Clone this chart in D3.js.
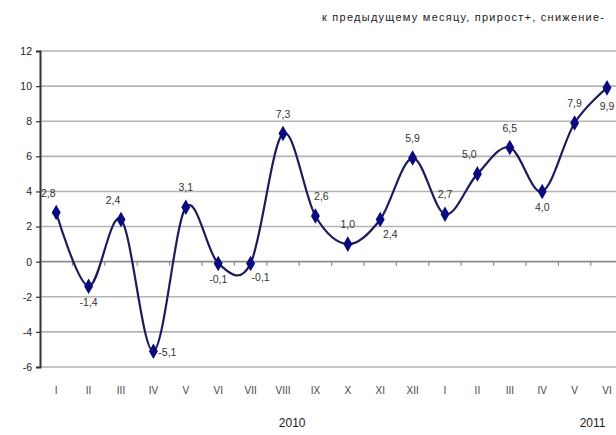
<!DOCTYPE html>
<html><head><meta charset="utf-8">
<script src="https://cdn.jsdelivr.net/npm/d3@7"></script>
<style>body{margin:0;background:#fff;} svg{display:block;}</style>
</head><body>
<svg id="c" width="616" height="435"></svg>
<script>
const months = ["I","II","III","IV","V","VI","VII","VIII","IX","X","XI","XII","I","II","III","IV","V","VI"];
const values = [2.8,-1.4,2.4,-5.1,3.1,-0.1,-0.1,7.3,2.6,1.0,2.4,5.9,2.7,5.0,6.5,4.0,7.9,9.9];
const valueLabels = ["2,8","-1,4","2,4","-5,1","3,1","-0,1","-0,1","7,3","2,6","1,0","2,4","5,9","2,7","5,0","6,5","4,0","7,9","9,9"];
const labelSide = ["aboveL","below","aboveL","right","above","below","belowR","above","aboveR","above","belowR","above","above","aboveL","above","below","above","belowR2"];
const yTicks = [12,10,8,6,4,2,0,-2,-4,-6];
const years = ["2010","2011"];
const subtitle = "к предыдущему месяцу, прирост+, снижение-";

const svg = d3.select("#c");
const plotLeft = 40, plotTop = 51, plotBottom = 367, step = 32.4;
const idx = months.map((m,i)=>i);
const x = d3.scaleBand().domain(idx).range([plotLeft, plotLeft + step*months.length]).paddingInner(0).paddingOuter(0);
const cx = i => x(i) + x.bandwidth()/2;
const y = d3.scaleLinear().domain([-6,12]).range([plotBottom, plotTop]);

// gridlines
svg.append("g").selectAll("line").data(yTicks.filter(t=>t!==0)).join("line")
  .attr("x1", plotLeft).attr("x2", 616).attr("y1", d=>y(d)).attr("y2", d=>y(d))
  .attr("stroke", "#b4b4b4").attr("stroke-width", 1.6);
// zero axis line
svg.append("line").attr("x1", plotLeft).attr("x2", 616).attr("y1", y(0)).attr("y2", y(0))
  .attr("stroke", "#8a8a8a").attr("stroke-width", 1.6);
// category ticks on zero line
svg.append("g").selectAll("line").data(d3.range(1, months.length+1)).join("line")
  .attr("x1", i=>x(i-1)+x.bandwidth()).attr("x2", i=>x(i-1)+x.bandwidth())
  .attr("y1", y(0)).attr("y2", y(0)+4).attr("stroke", "#8a8a8a").attr("stroke-width", 1.2);

// y axis
const yAxis = d3.axisLeft(y).tickValues(yTicks).tickSize(4).tickFormat(d=>d);
const ga = svg.append("g").attr("transform", `translate(${plotLeft},0)`).call(yAxis);
ga.select(".domain").attr("stroke", "#333").attr("stroke-width", 2);
ga.selectAll(".tick line").attr("stroke", "#333").attr("stroke-width", 1.2);
ga.selectAll("text").attr("font-family", "Liberation Sans, Arial, sans-serif")
  .attr("font-size", 10.5).attr("fill", "#222").attr("x", -8);

// x labels
svg.append("g").selectAll("text").data(idx).join("text")
  .attr("x", cx).attr("y", 394).attr("text-anchor", "middle")
  .attr("font-family", "Liberation Sans, Arial, sans-serif").attr("font-size", 10)
  .attr("fill", "#444")
  .text(i=>months[i]);

// year labels
svg.append("text").attr("x", (cx(7)+cx(8))/2 - 7).attr("y", 427).attr("text-anchor","middle")
  .attr("font-family", "Liberation Sans, Arial, sans-serif").attr("font-size", 12).attr("fill","#222").text(years[0]);
svg.append("text").attr("x", cx(16)+18).attr("y", 427).attr("text-anchor","middle")
  .attr("font-family", "Liberation Sans, Arial, sans-serif").attr("font-size", 12).attr("fill","#222").text(years[1]);

// subtitle
svg.append("text").attr("x", 322).attr("y", 21)
  .attr("font-family", "Liberation Sans Narrow, Liberation Sans, Arial, sans-serif").attr("font-size", 11)
  .attr("letter-spacing", 1.25)
  .attr("fill", "#222").text(subtitle);

// line
const line = d3.line().x(i=>cx(i)).y(i=>y(values[i])).curve(d3.curveCardinal.tension(0));
svg.append("path").datum(idx).attr("d", line).attr("fill","none")
  .attr("stroke", "#1c1c5c").attr("stroke-width", 2.2);

// markers
const sym = d3.symbol().type(d3.symbolDiamond).size(70);
svg.append("g").selectAll("path").data(idx).join("path")
  .attr("d", sym).attr("transform", i=>`translate(${cx(i)},${y(values[i])})`)
  .attr("fill", "#0a0a80");

// value labels
const off = {above:[0,-16], aboveL:[-8,-16], aboveR:[6,-16], below:[0,20], belowR:[10,18], belowR2:[0,22], right:[14,5]};
svg.append("g").selectAll("text").data(idx).join("text")
  .attr("x", i=>cx(i)+off[labelSide[i]][0]).attr("y", i=>y(values[i])+off[labelSide[i]][1])
  .attr("text-anchor", "middle")
  .attr("font-family", "Liberation Sans, Arial, sans-serif").attr("font-size", 10.5).attr("fill", "#333")
  .text(i=>valueLabels[i]);
</script>
</body></html>
